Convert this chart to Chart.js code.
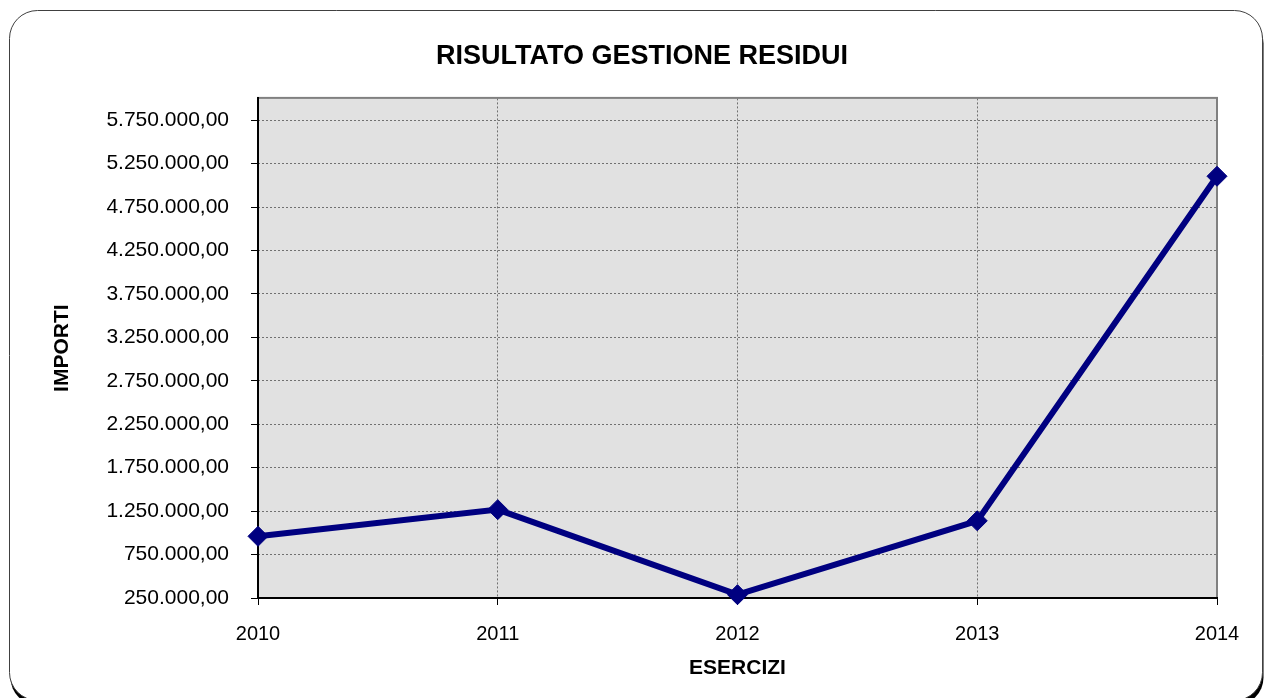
<!DOCTYPE html>
<html>
<head>
<meta charset="utf-8">
<script src="https://cdn.jsdelivr.net/npm/chart.js@4/dist/chart.umd.min.js"></script>
<style>
  html, body { margin: 0; padding: 0; background: #fff; }
  #wrap { position: relative; width: 1270px; height: 698px; }
  canvas { display: block; }
</style>
</head>
<body>
<div id="wrap"><canvas id="c" width="1270" height="698"></canvas></div>
<script>
const chartTitle = 'RISULTATO GESTIONE RESIDUI';
const xTitle = 'ESERCIZI';
const yTitle = 'IMPORTI';
const categories = ['2010', '2011', '2012', '2013', '2014'];
const values = [960000, 1267000, 288000, 1138000, 5104000];
const yTicks = [250000, 750000, 1250000, 1750000, 2250000, 2750000, 3250000, 3750000, 4250000, 4750000, 5250000, 5750000];
const yMin = 250000;
const yMax = 6000000;

function fmtIt(v) {
  const s = Math.round(v).toString().replace(/\B(?=(\d{3})+(?!\d))/g, '.');
  return s + ',00';
}

const FONT = "'Liberation Sans', Arial, sans-serif";

function roundRectPath(ctx, x, y, w, h, r) {
  ctx.beginPath();
  ctx.moveTo(x + r, y);
  ctx.lineTo(x + w - r, y);
  ctx.arcTo(x + w, y, x + w, y + r, r);
  ctx.lineTo(x + w, y + h - r);
  ctx.arcTo(x + w, y + h, x + w - r, y + h, r);
  ctx.lineTo(x + r, y + h);
  ctx.arcTo(x, y + h, x, y + h - r, r);
  ctx.lineTo(x, y + r);
  ctx.arcTo(x, y, x + r, y, r);
  ctx.closePath();
}

const framePlugin = {
  id: 'frame',
  beforeDraw(chart) {
    const ctx = chart.ctx;
    const W = chart.width, H = chart.height;
    ctx.save();
    ctx.fillStyle = '#ffffff';
    ctx.fillRect(0, 0, W, H);
    const x = 9.5, y = 10.5, w = 1253, h = 690, r = 28;
    // dark shadow showing only at the bottom corners
    roundRectPath(ctx, x + 1, y + 5, w, h, r);
    ctx.fillStyle = '#000000';
    ctx.fill();
    roundRectPath(ctx, x, y, w, h, r);
    ctx.fillStyle = '#ffffff';
    ctx.fill();
    ctx.strokeStyle = '#404040';
    ctx.lineWidth = 1;
    ctx.stroke();
    // plot area background
    const a = chart.chartArea;
    ctx.fillStyle = '#e1e1e1';
    ctx.fillRect(a.left, a.top, a.right - a.left, a.bottom - a.top);
    ctx.restore();
  },
  beforeDatasetsDraw(chart) {
    const ctx = chart.ctx;
    const a = chart.chartArea;
    ctx.save();
    ctx.setLineDash([]);
    ctx.strokeStyle = '#808080';
    ctx.lineWidth = 2;
    ctx.strokeRect(a.left, a.top - 0.5, a.right - a.left, a.bottom - a.top + 0.5);
    ctx.strokeStyle = '#000000';
    ctx.lineWidth = 2;
    ctx.beginPath();
    ctx.moveTo(a.left, a.top - 1.5);
    ctx.lineTo(a.left, a.bottom + 1);
    ctx.moveTo(a.left - 1, a.bottom);
    ctx.lineTo(a.right + 1, a.bottom);
    ctx.stroke();
    ctx.restore();
  }
};

new Chart(document.getElementById('c'), {
  type: 'line',
  data: {
    labels: categories,
    datasets: [{
      data: values,
      borderColor: '#000080',
      backgroundColor: '#000080',
      borderWidth: 6,
      pointStyle: 'rectRot',
      pointRadius: 10,
      pointBorderWidth: 1,
      pointBackgroundColor: '#000080',
      pointBorderColor: '#000080',
      tension: 0,
      fill: false,
      clip: false
    }]
  },
  options: {
    responsive: false,
    animation: false,
    devicePixelRatio: 1,
    layout: { padding: { left: 14, right: 0, top: 0, bottom: 0 } },
    plugins: {
      legend: { display: false },
      tooltip: { enabled: false },
      title: {
        display: true,
        text: chartTitle,
        color: '#000',
        font: { family: FONT, size: 27, weight: 'bold' },
        padding: { top: 40, bottom: 26 }
      }
    },
    scales: {
      x: {
        type: 'category',
        offset: false,
        grid: {
          display: true,
          offset: false,
          color: '#707070',
          lineWidth: 1,
          drawTicks: true,
          tickLength: 7,
          tickColor: '#000',
          tickWidth: 1
        },
        border: { display: false, dash: [2, 2] },
        ticks: {
          color: '#000',
          font: { family: FONT, size: 20 },
          padding: 17,
          maxRotation: 0,
          autoSkip: false
        },
        title: {
          display: true,
          text: xTitle,
          color: '#000',
          font: { family: FONT, size: 21, weight: 'bold' },
          padding: { top: 0, bottom: 17 }
        },
        afterFit(s) { s.height = 100; }
      },
      y: {
        type: 'linear',
        position: 'left',
        min: yMin,
        max: yMax,
        afterBuildTicks(s) { s.ticks = yTicks.map(v => ({ value: v })); },
        grid: {
          display: true,
          color: '#707070',
          lineWidth: 1,
          drawTicks: true,
          tickLength: 7,
          tickColor: '#000',
          tickWidth: 1
        },
        border: { display: false, dash: [2, 2] },
        ticks: {
          color: '#000',
          font: { family: FONT, size: 21 },
          padding: 22,
          callback: (v) => fmtIt(v)
        },
        title: {
          display: true,
          text: yTitle,
          color: '#000',
          font: { family: FONT, size: 21, weight: 'bold' },
          padding: { top: 36, bottom: 0 }
        },
        afterFit(s) { s.width = 244; }
      },
      y2: {
        type: 'linear',
        position: 'right',
        display: true,
        grid: { display: false, drawTicks: false },
        border: { display: false },
        ticks: { display: false },
        afterFit(s) { s.width = 53; }
      }
    }
  },
  plugins: [framePlugin]
});
</script>
</body>
</html>
